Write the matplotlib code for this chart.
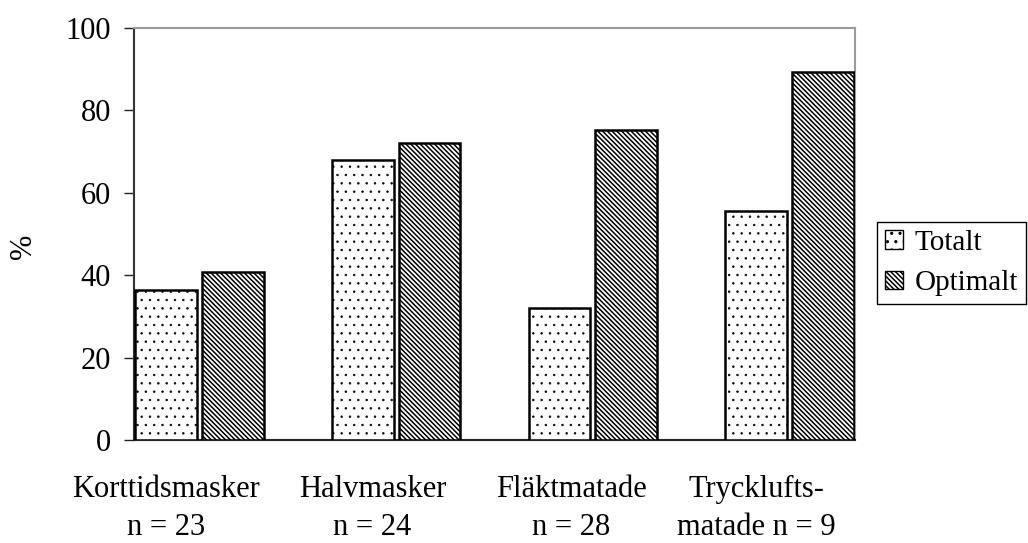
import numpy as np
import matplotlib
matplotlib.use("Agg")
import matplotlib.pyplot as plt

categories = ["Korttidsmasker\nn = 23", "Halvmasker\nn = 24", "Fläktmatade\nn = 28", "Trycklufts-\nmatade n = 9"]
totalt = [36.4, 68.0, 32.0, 55.6]
optimalt = [40.8, 72.1, 75.2, 89.3]
series_names = ["Totalt", "Optimalt"]
yticks = [0, 20, 40, 60, 80, 100]

plt.rcParams['font.family'] = ['Liberation Serif', 'DejaVu Serif']
plt.rcParams['hatch.color'] = 'black'
FS = 22

W, H = 1028, 543
fig = plt.figure(figsize=(W / 100, H / 100), dpi=100)
ax = fig.add_axes([134 / W, 1 - 440 / H, (855 - 134) / W, (440 - 28) / H])

x = np.arange(len(categories))
bw = 0.313
off = 0.169
plt.rcParams['hatch.linewidth'] = 0.5
ax.bar(x - off, totalt, bw, facecolor='white', edgecolor='black', linewidth=1.8,
       hatch='..', label=series_names[0], zorder=3)
plt.rcParams['hatch.linewidth'] = 1.1
ax.bar(x + off, optimalt, bw, facecolor='white', edgecolor='black', linewidth=1.8,
       hatch='\\' * 7, label=series_names[1], zorder=3)

ax.set_xlim(-0.333, 3.333)
ax.set_ylim(0, 100)
ax.set_yticks(yticks)
ax.tick_params(axis='y', direction='out', length=7.5, width=1.0, labelsize=FS, pad=9, color='#222222')

label_shift = np.array([-0.17, -0.12, -0.11, -0.17])
ax.set_xticks(x + label_shift)
ax.set_xticklabels(categories, fontsize=FS, linespacing=1.42, multialignment='center')
ax.tick_params(axis='x', length=0, pad=25)

for s in ['top', 'right']:
    ax.spines[s].set_color('#9a9a9a')
    ax.spines[s].set_linewidth(1.5)
ax.spines['left'].set_color('#333333')
ax.spines['left'].set_linewidth(1.5)
ax.spines['bottom'].set_color('#222222')
ax.spines['bottom'].set_linewidth(1.5)

fig.text(23 / W, 1 - 246 / H, "%", rotation=90, fontsize=FS, ha='center', va='center')

leg = fig.legend(loc='center left', bbox_to_anchor=(877 / W, 1 - 263 / H), fontsize=21,
                 frameon=True, fancybox=False, edgecolor='black', framealpha=1,
                 handlelength=0.6, handleheight=0.6, handletextpad=0.4,
                 labelspacing=0.5, borderpad=0.28, borderaxespad=0)
leg.get_frame().set_linewidth(1.0)
for p in leg.get_patches():
    p.set_linewidth(1.0)

fig.savefig("out.png", dpi=100)
